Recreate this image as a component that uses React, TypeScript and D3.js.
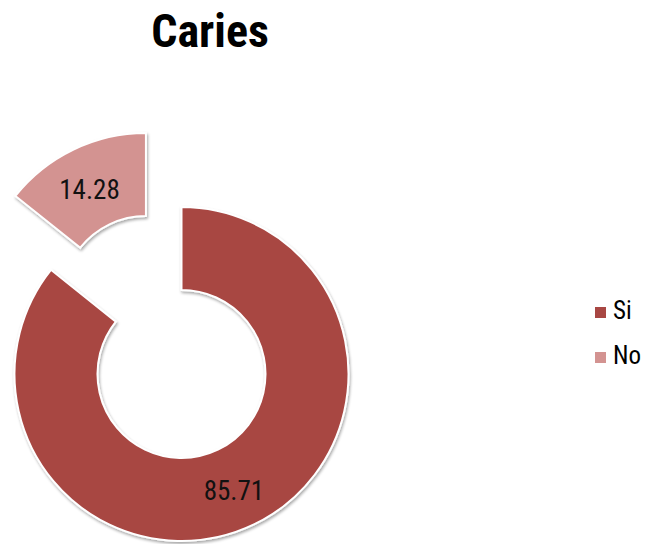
import React from "react";
import * as d3 from "d3";

const categories = ["Si", "No"];
const values = [85.71, 14.28];
const colors = ["#A84743", "#D39391"];
const title = "Caries";

const FONT = "'Liberation Sans Narrow', 'Roboto Condensed', 'Liberation Sans', Arial, sans-serif";

export default function App() {
  const W = 649, H = 544;
  const cx = 181.5, cy = 374;
  const outerR = 167, innerR = 84;
  const explode = 82;

  const pie = d3.pie<number>().sort(null).value((d) => d);
  const arcs = pie(values);
  const arc = d3.arc<d3.PieArcDatum<number>>().innerRadius(innerR).outerRadius(outerR);
  const labelArc = d3.arc<d3.PieArcDatum<number>>().innerRadius((innerR + outerR) / 2).outerRadius((innerR + outerR) / 2);

  return (
    <svg width={W} height={H} style={{ position: "absolute", left: 0, top: 0, background: "#fff" }}>
      <defs>
        <filter id="sh" x="-20%" y="-20%" width="140%" height="140%">
          <feGaussianBlur in="SourceAlpha" stdDeviation="1.5" />
          <feOffset dx="1" dy="1.5" result="b" />
          <feComponentTransfer><feFuncA type="linear" slope="0.35" /></feComponentTransfer>
          <feMerge><feMergeNode /><feMergeNode in="SourceGraphic" /></feMerge>
        </filter>
      </defs>
      <text x={210} y={47} textAnchor="middle" fontFamily={FONT} fontWeight="bold" fontSize={46} fill="#000">{title}</text>
      {arcs.map((a, i) => {
        const mid = (a.startAngle + a.endAngle) / 2;
        const off = i === 1 ? explode : 0;
        const dx = Math.sin(mid) * off, dy = -Math.cos(mid) * off;
        const [lx, ly] = labelArc.centroid(a);
        return (
          <g key={i} transform={`translate(${cx + dx},${cy + dy})`}>
            <path d={arc(a) || ""} fill={colors[i]} stroke="#fff" strokeWidth={2} filter="url(#sh)" />
            <text x={lx - 2} y={ly + 3} dy="0.35em" textAnchor="middle" fontFamily={FONT} fontSize={27} fill="#111">{values[i].toFixed(2)}</text>
          </g>
        );
      })}
      {categories.map((c, i) => (
        <g key={c} transform={`translate(595,${307 + i * 45})`}>
          <rect width={11} height={11} fill={colors[i]} />
          <text x={18} y={12} fontFamily={FONT} fontSize={25} fill="#000">{c}</text>
        </g>
      ))}
    </svg>
  );
}
